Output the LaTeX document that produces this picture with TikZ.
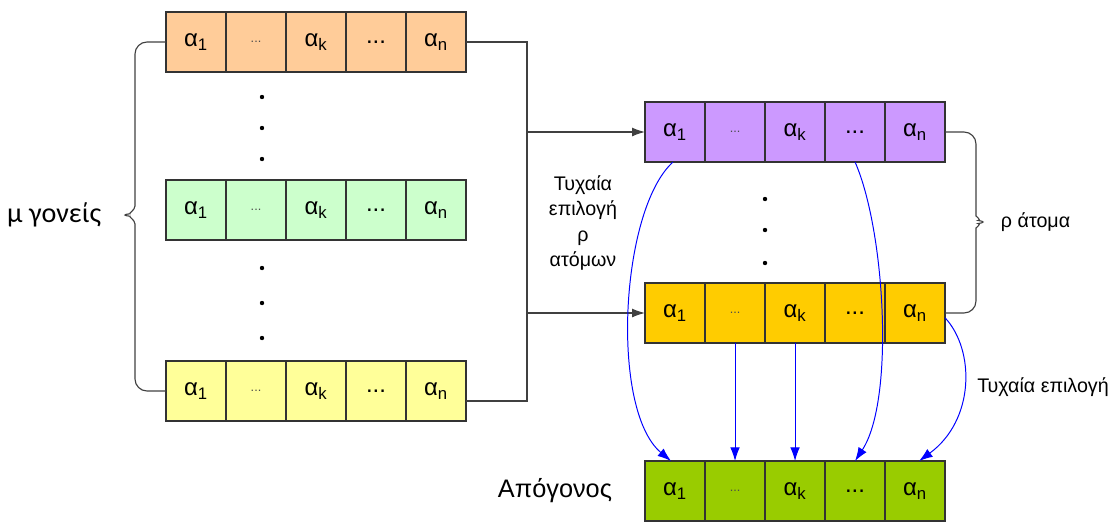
\documentclass[tikz,border=0pt]{standalone}
\usepackage{fontspec}
\setmainfont{Liberation Sans}
\newfontfamily\parentfont{Carlito}
\usetikzlibrary{arrows.meta,positioning}

\definecolor{peach}{HTML}{FFCC99}
\definecolor{mint}{HTML}{CCFFCC}
\definecolor{lemon}{HTML}{FFFF99}
\definecolor{lilac}{HTML}{CC99FF}
\definecolor{amber}{HTML}{FFCC00}
\definecolor{leaf}{HTML}{99CC00}

\begin{document}
\begin{tikzpicture}[
    x=0.025cm, y=-0.025cm,
    >=Latex,
    cell/.style={draw=black!80, line width=0.9pt, outer sep=0pt, minimum width=1.5cm, minimum height=1.5cm, inner sep=0pt, font=\fontsize{17}{18}\selectfont},
    fewdots/.style={cell, font=\fontsize{9}{10}\selectfont, text=black!70, yshift=0pt},
    note/.style={font=\fontsize{14}{18.2}\selectfont, align=center},
    big/.style={font=\fontsize{18}{20}\selectfont},
    wire/.style={draw=black!75, line width=0.8pt},
    arrow/.style={wire, -{Latex[length=3.2mm,width=2.2mm]}},
    pick/.style={blue, line width=0.7pt, -{Latex[length=3.4mm,width=2.4mm]}}
]
\useasboundingbox (0,0) rectangle (1116,521);

% parents
\node[cell, fill=peach] (o1) at (196,42) {α\textsubscript{1}};
\node[fewdots, fill=peach, right=0cm of o1] (o2) {...};
\node[cell, fill=peach, right=0cm of o2] (o3) {α\textsubscript{k}};
\node[cell, fill=peach, right=0cm of o3] (o4) {...};
\node[cell, fill=peach, right=0cm of o4] (o5) {α\textsubscript{n}};

\node[cell, fill=mint] (g1) at (196,210) {α\textsubscript{1}};
\node[fewdots, fill=mint, right=0cm of g1] (g2) {...};
\node[cell, fill=mint, right=0cm of g2] (g3) {α\textsubscript{k}};
\node[cell, fill=mint, right=0cm of g3] (g4) {...};
\node[cell, fill=mint, right=0cm of g4] (g5) {α\textsubscript{n}};

\node[cell, fill=lemon] (y1) at (196,391) {α\textsubscript{1}};
\node[fewdots, fill=lemon, right=0cm of y1] (y2) {...};
\node[cell, fill=lemon, right=0cm of y2] (y3) {α\textsubscript{k}};
\node[cell, fill=lemon, right=0cm of y3] (y4) {...};
\node[cell, fill=lemon, right=0cm of y4] (y5) {α\textsubscript{n}};

\foreach \y in {97,128,159,268,303,338}
    \fill (262,\y) circle (2.2);

% selected
\node[cell, fill=lilac] (p1) at (675,132) {α\textsubscript{1}};
\node[fewdots, fill=lilac, right=0cm of p1] (p2) {...};
\node[cell, fill=lilac, right=0cm of p2] (p3) {α\textsubscript{k}};
\node[cell, fill=lilac, right=0cm of p3] (p4) {...};
\node[cell, fill=lilac, right=0cm of p4] (p5) {α\textsubscript{n}};

\node[cell, fill=amber] (d1) at (675,313) {α\textsubscript{1}};
\node[fewdots, fill=amber, right=0cm of d1] (d2) {...};
\node[cell, fill=amber, right=0cm of d2] (d3) {α\textsubscript{k}};
\node[cell, fill=amber, right=0cm of d3] (d4) {...};
\node[cell, fill=amber, right=0cm of d4] (d5) {α\textsubscript{n}};

\foreach \y in {199,230,263}
    \fill (765,\y) circle (2.2);

% offspring
\node[cell, fill=leaf] (c1) at (675,491) {α\textsubscript{1}};
\node[fewdots, fill=leaf, right=0cm of c1] (c2) {...};
\node[cell, fill=leaf, right=0cm of c2] (c3) {α\textsubscript{k}};
\node[cell, fill=leaf, right=0cm of c3] (c4) {...};
\node[cell, fill=leaf, right=0cm of c4] (c5) {α\textsubscript{n}};
\node[big, left=0.7cm of c1] (child) {Απόγονος};

% braces and labels
\coordinate (ltip) at (118,215);
\draw[wire, rounded corners=0.3cm] (o1.west) -- (135,42) -- (135,194)
    .. controls (135,210) and (128,214) .. (ltip)
    .. controls (128,216) and (135,220) .. (135,236) -- (135,391) -- (y1.west);
\node[big, font=\parentfont\fontsize{20}{20}\selectfont, left=0.3cm of ltip] (parents) {μ γονείς};

\coordinate (rtip) at (990,222);
\draw[wire, rounded corners=0.3cm] (p5.east) -- (976,132) -- (976,204)
    .. controls (976,216) and (982,221) .. (rtip)
    .. controls (982,223) and (976,228) .. (976,240) -- (976,313) -- (d5.east);
\node[note, right=0.15cm of rtip] (rho) {ρ άτομα};

% selection of rho individuals
\coordinate (bus) at (527,42);
\draw[wire] (o5.east) -- (bus) |- ([yshift=-0.25cm]y5.east);
\draw[arrow] (bus |- p1.west) -- (p1.west);
\draw[arrow] (bus |- d1.west) -- (d1.west);
\node[note] (pickrho) at (583,223) {Τυχαία\\επιλογή\\ρ\\ατόμων};

% genes of the offspring
\draw[pick] ([xshift=-0.05cm]p1.south) .. controls (620,210) and (610,410) .. ([xshift=-0.1cm]c1.north);
\draw[pick] (p4.south) .. controls (885,230) and (895,400) .. (c4.north);
\draw[pick] (d2.south) -- (c2.north);
\draw[pick] (d3.south) -- (c3.north);
\draw[pick] ([yshift=-0.12cm]d5.east) .. controls (975,350) and (975,420) .. ([xshift=0.1cm]c5.north);
\node[note] (pickgene) at (1043,387) {Τυχαία επιλογή};
\end{tikzpicture}
\end{document}
